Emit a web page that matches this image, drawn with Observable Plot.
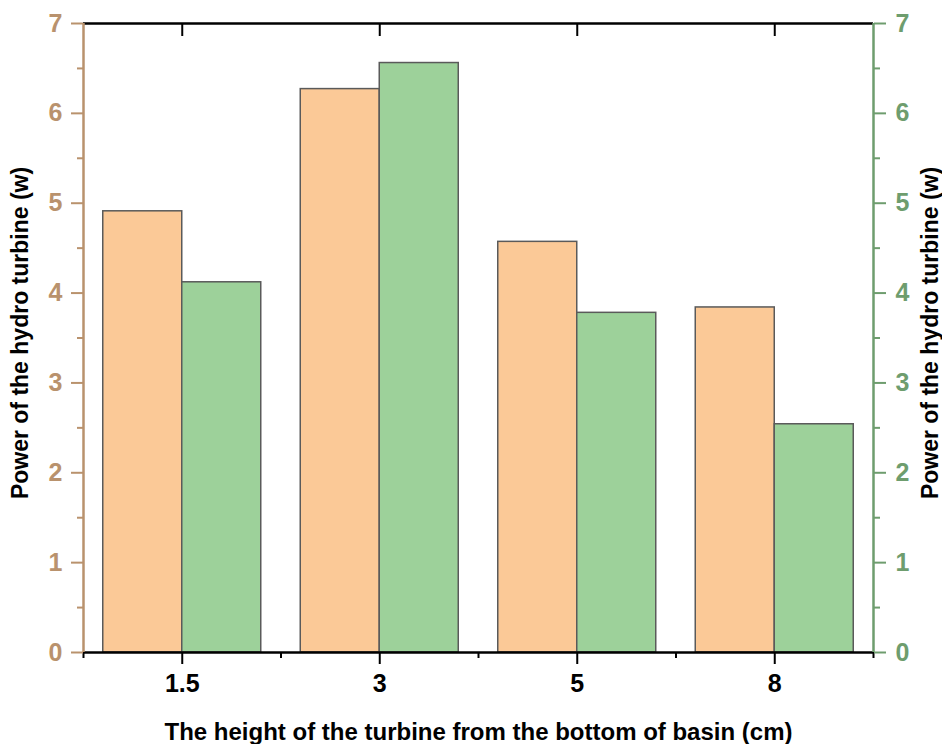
<!DOCTYPE html>
<html>
<head>
<meta charset="utf-8">
<script src="https://cdn.jsdelivr.net/npm/d3@7"></script>
<script src="https://cdn.jsdelivr.net/npm/@observablehq/plot@0.6"></script>
<style>
  html, body { margin: 0; padding: 0; background: #fff; }
  #chart { width: 942px; height: 744px; }
</style>
</head>
<body>
<div id="chart"></div>
<script>
const categories = ["1.5", "3", "5", "8"];
const seriesA = [4.91, 6.27, 4.57, 3.84];   // orange, left axis
const seriesB = [4.12, 6.56, 3.78, 2.54];   // green, right axis
const yTicks = [0, 1, 2, 3, 4, 5, 6, 7];
const yMinor = [0.5, 1.5, 2.5, 3.5, 4.5, 5.5, 6.5];
const yLabel = "Power of the hydro turbine (w)";
const xLabel = "The height of the turbine from the bottom of basin (cm)";

const colA = "#FBC997";
const colB = "#9DD19A";
const axisBrown = "#B9926D";
const axisGreen = "#6E9D6E";

const rows = categories.flatMap((c, i) => [
  {c, i, s: "A", v: seriesA[i]},
  {c, i, s: "B", v: seriesB[i]}
]);
const centers = categories.map((c, i) => i + 0.5);
const bounds = d3.range(categories.length + 1);

const font = {fontFamily: "Liberation Sans, Arial, sans-serif", fontWeight: "bold"};

const chart = Plot.plot({
  width: 942,
  height: 744,
  marginTop: 23,
  marginRight: 69,
  marginBottom: 92,
  marginLeft: 83,
  style: {fontFamily: "Liberation Sans, Arial, sans-serif", background: "#fff"},
  x: {domain: [0, categories.length]},
  y: {domain: [0, 7]},
  marks: [
    Plot.rectY(rows, {
      x1: d => d.i + (d.s === "A" ? 0.1 : 0.5),
      x2: d => d.i + (d.s === "A" ? 0.5 : 0.9),
      y1: 0,
      y2: "v",
      fill: d => d.s === "A" ? colA : colB,
      stroke: "#5a5a5a",
      strokeWidth: 1.5
    }),
    // frame lines
    Plot.ruleY([0], {stroke: "#000", strokeWidth: 2.5}),
    Plot.ruleY([7], {stroke: "#000", strokeWidth: 2.5}),
    Plot.ruleX([0], {stroke: axisBrown, strokeWidth: 2.5}),
    Plot.ruleX([categories.length], {stroke: axisGreen, strokeWidth: 2.5}),
    // bottom axis
    Plot.axisX(centers, {anchor: "bottom", tickSize: 12, strokeWidth: 2, tickPadding: 10,
      tickFormat: d => categories[Math.floor(d)], fontSize: 25, ...font, fill: "#000", label: null}),
    Plot.axisX(bounds, {anchor: "bottom", tickSize: 6, strokeWidth: 2, text: null, label: null}),
    // top inward ticks
    Plot.axisX(centers, {anchor: "top", tickSize: -12, strokeWidth: 2, text: null, label: null}),
    // left axis
    Plot.axisY(yTicks, {anchor: "left", tickSize: 12, strokeWidth: 2, tickPadding: 9,
      tickFormat: d3.format("d"), color: axisBrown, fontSize: 25, ...font, label: null}),
    Plot.axisY(yMinor, {anchor: "left", tickSize: 6, strokeWidth: 2, text: null, color: axisBrown, label: null}),
    // right axis
    Plot.axisY(yTicks, {anchor: "right", tickSize: 12, strokeWidth: 2, tickPadding: 10,
      tickFormat: d3.format("d"), color: axisGreen, fontSize: 25, ...font, label: null}),
    Plot.axisY(yMinor, {anchor: "right", tickSize: 6, strokeWidth: 2, text: null, color: axisGreen, label: null}),
    // axis titles
    Plot.text([yLabel], {frameAnchor: "left", textAnchor: "middle", rotate: -90, dx: -63, dy: -5, fontSize: 23, ...font, fill: "#000"}),
    Plot.text([yLabel], {frameAnchor: "right", textAnchor: "middle", rotate: -90, dx: 57, dy: -5, fontSize: 23, ...font, fill: "#000"}),
    Plot.text([xLabel], {frameAnchor: "bottom", dy: 87, fontSize: 24, ...font, fill: "#000"})
  ]
});
document.getElementById("chart").appendChild(chart);
</script>
</body>
</html>
